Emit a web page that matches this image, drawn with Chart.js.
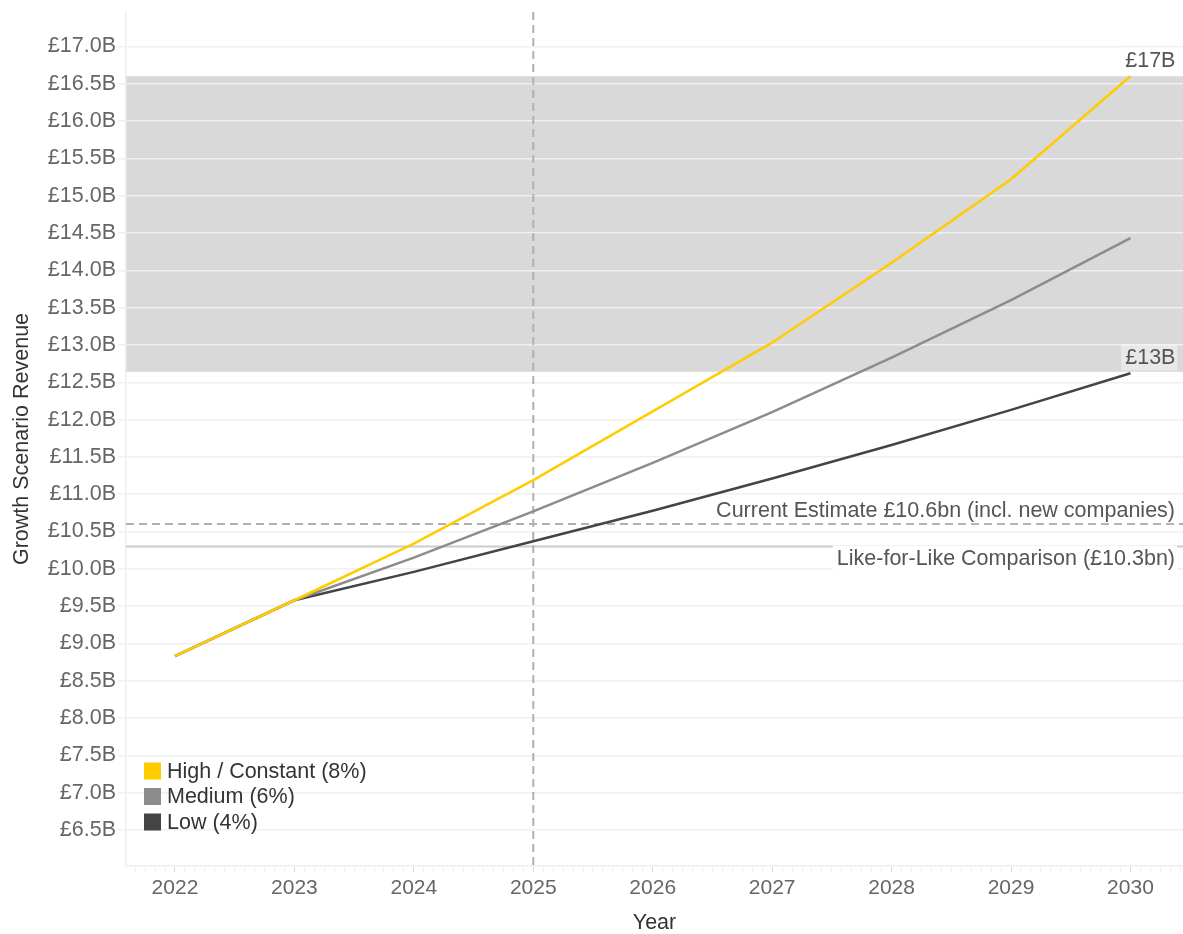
<!DOCTYPE html>
<html>
<head>
<meta charset="utf-8">
<script src="https://cdn.jsdelivr.net/npm/chart.js@4"></script>
<style>
  body { margin: 0; background: #fff; }
  #wrap { width: 1183px; height: 934px; }
</style>
</head>
<body>
<div id="wrap"><canvas id="chart" width="1183" height="934"></canvas></div>
<script>
const years = [2022, 2023, 2024, 2025, 2026, 2027, 2028, 2029, 2030];
const highVals   = [8.83, 9.58, 10.34, 11.19, 12.11, 13.03, 14.10, 15.22, 16.60];
const mediumVals = [8.83, 9.58, 10.15, 10.77, 11.42, 12.10, 12.83, 13.60, 14.43];
const lowVals    = [8.83, 9.58, 9.96, 10.37, 10.78, 11.21, 11.66, 12.13, 12.62];
const seriesLabels = ['High / Constant (8%)', 'Medium (6%)', 'Low (4%)'];
const seriesColors = ['#ffcc00', '#8c8c8c', '#444444'];
const yTicks = [6.5, 7.0, 7.5, 8.0, 8.5, 9.0, 9.5, 10.0, 10.5, 11.0, 11.5, 12.0,
                12.5, 13.0, 13.5, 14.0, 14.5, 15.0, 15.5, 16.0, 16.5, 17.0];
const bandLow = 12.64;
const bandHigh = 16.60;
const currentEstimate = 10.6;
const likeForLike = 10.3;
const markerYear = 2025;

const FONT = 'Liberation Sans, Arial, Helvetica, sans-serif';
const FS = 21.5;

const toPoints = vals => vals.map((v, i) => ({ x: years[i], y: v }));

const boxLabel = (ctx, text, xRight, yMid, bg) => {
  ctx.font = `${FS}px ${FONT}`;
  const w = ctx.measureText(text).width;
  if (bg) {
    ctx.fillStyle = bg;
    ctx.fillRect(xRight - w - 4, yMid - 13, w + 6, 26);
  }
  ctx.fillStyle = '#555';
  ctx.textAlign = 'right';
  ctx.textBaseline = 'middle';
  ctx.fillText(text, xRight, yMid + 1);
};

const overlay = {
  id: 'overlay',
  beforeDraw(chart) {
    const { ctx, chartArea: a, scales: { y } } = chart;
    const top = y.getPixelForValue(bandHigh);
    const bot = y.getPixelForValue(bandLow);
    ctx.save();
    ctx.fillStyle = '#d9d9d9';
    ctx.fillRect(a.left, top, a.right - a.left, bot - top);
    ctx.restore();
  },
  beforeDatasetsDraw(chart) {
    const { ctx, chartArea: a, scales: { x, y } } = chart;
    ctx.save();
    // like-for-like solid line
    ctx.strokeStyle = '#cccccc';
    ctx.lineWidth = 2;
    let py = y.getPixelForValue(likeForLike);
    ctx.beginPath(); ctx.moveTo(a.left, py); ctx.lineTo(a.right, py); ctx.stroke();
    // current estimate dashed
    ctx.strokeStyle = '#b0b0b0';
    ctx.setLineDash([8, 5]);
    py = y.getPixelForValue(currentEstimate);
    ctx.beginPath(); ctx.moveTo(a.left, py); ctx.lineTo(a.right, py); ctx.stroke();
    // vertical marker
    const px = x.getPixelForValue(markerYear);
    ctx.beginPath(); ctx.moveTo(px, a.top); ctx.lineTo(px, a.bottom); ctx.stroke();
    ctx.restore();
  },
  afterDatasetsDraw(chart) {
    const { ctx, scales: { x, y } } = chart;
    ctx.save();
    const yCE = y.getPixelForValue(currentEstimate);
    const yLL = y.getPixelForValue(likeForLike);
    boxLabel(ctx, 'Current Estimate £10.6bn (incl. new companies)', 1175, yCE - 14, '#ffffff');
    boxLabel(ctx, 'Like-for-Like Comparison (£10.3bn)', 1175, yLL + 12, '#ffffff');

    // end labels
    const last = years.length - 1;
    const ex = x.getPixelForValue(years[last]) + 45;
    [highVals, lowVals].forEach(vals => {
      const v = vals[last];
      boxLabel(ctx, `£${Math.round(v)}B`, ex, y.getPixelForValue(v) - 16, 'rgba(255,255,255,0.4)');
    });

    // legend
    ctx.font = `${FS}px ${FONT}`;
    ctx.textAlign = 'left';
    ctx.textBaseline = 'middle';
    seriesLabels.forEach((lab, i) => {
      const cy = 771 + i * 25.5;
      ctx.fillStyle = seriesColors[i];
      ctx.fillRect(144, cy - 8.5, 17, 17);
      ctx.fillStyle = '#333';
      ctx.fillText(lab, 167, cy + 1);
    });
    ctx.restore();
  }
};

const datasets = [highVals, mediumVals, lowVals].map((vals, i) => ({
  label: seriesLabels[i],
  data: toPoints(vals),
  borderColor: seriesColors[i],
  backgroundColor: seriesColors[i],
  borderWidth: 2.5,
  pointRadius: 0,
  tension: 0,
  fill: false
}));

new Chart(document.getElementById('chart'), {
  type: 'line',
  data: { datasets },
  plugins: [overlay],
  options: {
    responsive: false,
    animation: false,
    layout: { padding: { top: 12, right: 0, bottom: 0, left: 0 } },
    plugins: { legend: { display: false }, tooltip: { enabled: false } },
    scales: {
      x: {
        type: 'linear',
        min: 2021.59,
        max: 2030.44,
        afterBuildTicks: scale => {
          const ticks = [];
          for (let m = Math.ceil(scale.min * 12); m <= Math.floor(scale.max * 12); m++) {
            ticks.push({ value: m / 12 });
          }
          scale.ticks = ticks;
        },
        afterFit: scale => { scale.height = 68; scale.paddingLeft = 0; scale.paddingRight = 0; },
        ticks: {
          autoSkip: false,
          maxRotation: 0,
          padding: 4,
          color: '#666',
          font: { family: FONT, size: 21 },
          callback: v => (Math.abs(v - Math.round(v)) < 1e-6 && years.includes(Math.round(v))) ? String(Math.round(v)) : ''
        },
        grid: {
          drawOnChartArea: false,
          tickLength: 6,
          color: ctx => {
            const v = ctx.tick ? ctx.tick.value : 0;
            return Math.abs(v - Math.round(v)) < 1e-6 ? '#d8d8d8' : '#f0f0f0';
          }
        },
        border: { display: true, color: '#eeeeee', width: 1.5 },
        title: {
          display: true,
          text: 'Year',
          color: '#333',
          font: { family: FONT, size: FS },
          padding: { top: 0, bottom: -2 }
        }
      },
      y: {
        min: 6.02,
        max: 17.46,
        afterBuildTicks: scale => { scale.ticks = yTicks.map(v => ({ value: v })); },
        afterFit: scale => { scale.width = 126; scale.paddingTop = 0; scale.paddingBottom = 0; },
        ticks: {
          padding: 2,
          color: '#666',
          font: { family: FONT, size: FS },
          callback: v => `£${Number(v).toFixed(1)}B`
        },
        grid: { color: '#f0f0f0', lineWidth: 1.5, tickLength: 8 },
        border: { display: true, color: '#eeeeee', width: 1.5 },
        title: {
          display: true,
          text: 'Growth Scenario Revenue',
          color: '#333',
          font: { family: FONT, size: FS },
          padding: { top: 9, bottom: 0 }
        }
      }
    }
  }
});
</script>
</body>
</html>
